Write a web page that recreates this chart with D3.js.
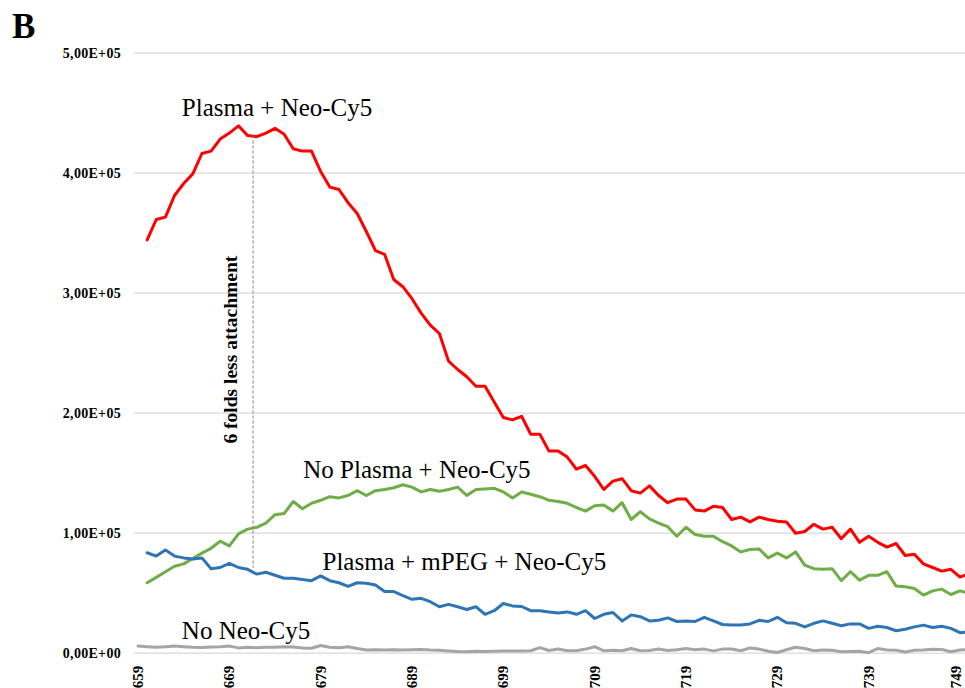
<!DOCTYPE html>
<html>
<head>
<meta charset="utf-8">
<script src="https://cdn.jsdelivr.net/npm/d3@7/dist/d3.min.js"></script>
<style>
  html, body { margin: 0; padding: 0; background: #ffffff; }
  svg { display: block; }
</style>
</head>
<body>
<svg id="chart" width="965" height="688"></svg>
<script>
// Emission wavelengths (nm) for the measured series
const wavelengths = d3.range(660, 751);
// The no-dye blank was read one step earlier
const blankWavelengths = d3.range(659, 751);

// Category labels shown along the bottom
const xTickValues = [659, 669, 679, 689, 699, 709, 719, 729, 739, 749];
const yTickValues = [0, 100000, 200000, 300000, 400000, 500000];
const yTickLabels = ["0,00E+00", "1,00E+05", "2,00E+05", "3,00E+05", "4,00E+05", "5,00E+05"];

// Fluorescence intensity, a.u.
const plasmaNeoCy5 = [
  344000, 361000, 363000, 381000, 391000, 399000, 416000, 418000, 428000, 433000,
  439000, 431000, 430000, 433000, 437000, 432000, 420000, 418000, 418000, 401000,
  388000, 386000, 375000, 366000, 351000, 335000, 332000, 311000, 305000, 295000,
  283000, 273000, 266000, 243000, 236000, 230000, 222000, 222000, 209000, 196000,
  194000, 197000, 182000, 182000, 168000, 168000, 163000, 153000, 156000, 147000,
  136000, 143000, 145000, 135000, 133000, 139000, 131000, 125000, 128000, 128000,
  119000, 118000, 122000, 121000, 111000, 113000, 109000, 113000, 111000, 109500,
  109000,  99500, 101000, 107000, 103000, 104500,  95000, 103000,  92000,  97000,
   92000,  88000,  91000,  81000,  82000,  74000,  71000,  68000,  69500,  63000, 66000
];

const noPlasmaNeoCy5 = [
   58300,  62800,  67500,  72000,  74000,  78500,  83000,  87000,  93000,  89000,
   99000, 103000, 104500, 108000, 115000, 116000, 126000, 120000, 124500, 127000,
  130000, 129000, 131000, 135000, 131000, 135000, 136000, 137500, 140000, 138000,
  134000, 136000, 134500, 136000, 138000, 131000, 136000, 136500, 137000, 134000,
  129000, 134000, 132000, 130000, 127000, 126000, 124500, 121000, 118000, 122500,
  123000, 118000, 125000, 111000, 117500, 111500, 108000, 105000,  97000, 104500,
   98500,  97000,  97000,  92500,  89000,  84000,  86000,  86500,  79000,  83000,
   79000,  84000,  73000,  70000,  69500,  70000,  60000,  67500,  60500,  64500,
   64500,  67500,  55500,  55000,  53500,  48000,  51500,  53000,  48500,  51500, 49500
];

const plasmaMpegNeoCy5 = [
   83300,  80500,  85600,  80500,  79000,  78000,  79000,  70000,  71000,  74500,
   71000,  69500,  65500,  67000,  64500,  62000,  62000,  61000,  60000,  64000,
   60000,  58300,  55300,  58300,  57800,  56400,  51000,  51000,  47500,  44500,
   45300,  42500,  38300,  40300,  38300,  36000,  38300,  32000,  35000,  41000,
   39000,  38500,  35000,  35000,  34000,  33000,  34000,  32000,  35000,  28500,
   32000,  33500,  26500,  31500,  30000,  26500,  27000,  29000,  26000,  26500,
   26000,  29500,  26500,  23500,  23000,  23000,  24000,  27000,  26000,  29500,
   25000,  24500,  21500,  24500,  26500,  24500,  22500,  24000,  24000,  20300,
   22000,  21000,  18300,  19500,  21500,  23000,  21000,  22000,  20300,  16700, 17500
];

const noNeoCy5 = [
  5500, 5000, 4500, 5000, 5500, 5000, 4500, 4300, 4700, 5000,
  5500, 4000, 4500, 4200, 4500, 4500, 5000, 4800, 4000, 3700,
  6000, 4500, 4200, 5000, 3500, 2200, 2500, 2200, 2400, 2200,
  2500, 2700, 2200, 2000, 1500, 1000,  800, 1200, 1000, 1200,
  1400, 1400, 1400, 1600, 4200, 1800, 3000, 1600, 1600, 3000,
  5000, 1600, 2000, 1600, 3500, 1600, 1800, 3000, 1800, 2500,
  3500, 2500, 3000, 1500, 3000, 3000, 1600, 4000, 3000, 1200,
   200, 2500, 4500, 3500, 1600, 2200, 2000,  800, 1000, 1200,
     0, 3500, 2200, 2000,  600, 2000, 2200, 2800, 2600,  800,
  2200, 2500
];

const seriesList = [
  { name: "No Neo-Cy5",              x: blankWavelengths, y: noNeoCy5,         color: "#a5a5a5" },
  { name: "No Plasma + Neo-Cy5",     x: wavelengths,      y: noPlasmaNeoCy5,   color: "#70ad47" },
  { name: "Plasma + mPEG + Neo-Cy5", x: wavelengths,      y: plasmaMpegNeoCy5, color: "#2e75b6" },
  { name: "Plasma + Neo-Cy5",        x: wavelengths,      y: plasmaNeoCy5,     color: "#ff0000" }
];

// Series captions, anchored at (wavelength, intensity) of their left baseline
const captions = [
  { text: "Plasma + Neo-Cy5",        wl: 663.8, v: 447000 },
  { text: "No Plasma + Neo-Cy5",     wl: 677.1, v: 145500 },
  { text: "Plasma + mPEG + Neo-Cy5", wl: 679.2, v: 69000 },
  { text: "No Neo-Cy5",              wl: 663.8, v: 11500 }
];

// Marker comparing the two plasma curves
const marker = { wl: 671.6, top: 431000, bottom: 70800, text: "6 folds less attachment" };

const svg = d3.select("#chart");
const serif = "'Liberation Serif', 'Times New Roman', Times, serif";

const x = d3.scaleLinear().domain([659, 749]).range([138, 960]);
const y = d3.scaleLinear().domain([0, 500000]).range([652.7, 52.7]);

// Panel letter
svg.append("text")
  .attr("x", 12).attr("y", 37.5)
  .attr("font-family", serif).attr("font-weight", "bold")
  .attr("font-size", 35).attr("fill", "#000")
  .text("B");

// Horizontal gridlines
const yAxis = d3.axisLeft(y)
  .tickValues(yTickValues)
  .tickSize(-(965 - 134))
  .tickPadding(13)
  .tickFormat((d, i) => yTickLabels[i]);

const gy = svg.append("g")
  .attr("transform", "translate(134,0)")
  .call(yAxis);
gy.select(".domain").remove();
gy.selectAll(".tick line").attr("stroke", "#d9d9d9").attr("stroke-width", 1.2);
gy.selectAll(".tick text")
  .attr("font-family", serif).attr("font-weight", "bold")
  .attr("font-size", 14).attr("letter-spacing", "0.3px")
  .attr("fill", "#000");

// Category labels, rotated; the last one is kept inside the right edge
const xAxis = d3.axisBottom(x).tickValues(xTickValues).tickSize(0).tickFormat(d3.format("d"));
const gx = svg.append("g")
  .attr("transform", "translate(0,652.7)")
  .call(xAxis);
gx.select(".domain").remove();
gx.selectAll(".tick text")
  .attr("font-family", serif).attr("font-weight", "bold")
  .attr("font-size", 15).attr("fill", "#000")
  .attr("text-anchor", "end")
  .attr("transform", "rotate(-90)")
  .attr("x", -13).attr("y", 0)
  .attr("dy", (d, i, nodes) => (i === nodes.length - 1 ? "0.05em" : "0.3em"));

// Spectra
const line = d3.line()
  .x(d => x(d[0]))
  .y(d => y(d[1]));

svg.append("g")
  .selectAll("path")
  .data(seriesList)
  .join("path")
  .attr("d", s => line(s.x.map((w, i) => [w, s.y[i]])))
  .attr("fill", "none")
  .attr("stroke", s => s.color)
  .attr("stroke-width", 3)
  .attr("stroke-linejoin", "round")
  .attr("stroke-linecap", "round");

// Dashed comparison marker
svg.append("line")
  .attr("x1", x(marker.wl)).attr("x2", x(marker.wl))
  .attr("y1", y(marker.top)).attr("y2", y(marker.bottom))
  .attr("stroke", "#7f7f7f").attr("stroke-width", 1)
  .attr("stroke-dasharray", "3,2");

svg.append("text")
  .attr("transform", `translate(${x(marker.wl) - 16},${(y(marker.top) + y(marker.bottom)) / 2 - 2}) rotate(-90)`)
  .attr("text-anchor", "middle")
  .attr("font-family", serif).attr("font-weight", "bold")
  .attr("font-size", 19.5).attr("fill", "#000")
  .text(marker.text);

// Series captions
svg.append("g")
  .selectAll("text")
  .data(captions)
  .join("text")
  .attr("x", d => x(d.wl))
  .attr("y", d => y(d.v))
  .attr("font-family", serif)
  .attr("font-size", 25)
  .attr("fill", "#000")
  .text(d => d.text);
</script>
</body>
</html>
